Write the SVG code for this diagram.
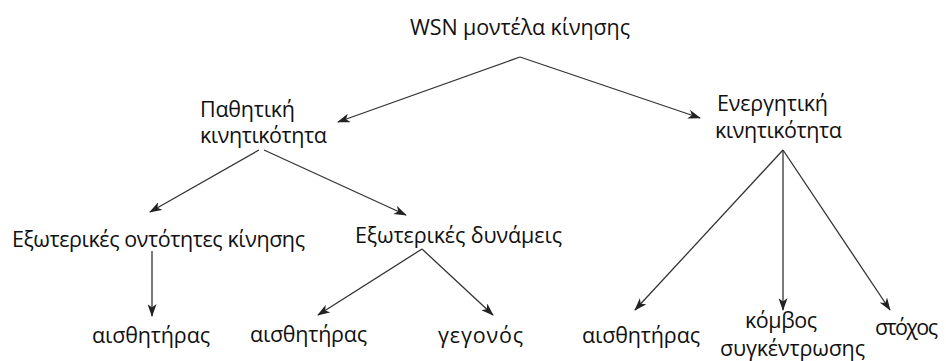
<svg xmlns="http://www.w3.org/2000/svg" width="946" height="361" viewBox="0 0 946 361">
<style>
text{font-family:"Open Sans","Noto Sans","DejaVu Sans",sans-serif;font-size:21.5px;fill:#111}
.c line{stroke:#333;stroke-width:1.3;marker-end:url(#ah)}
</style>
<defs>
<marker id="ah" viewBox="0 0 13 9" refX="12" refY="4.5" markerWidth="13" markerHeight="9" markerUnits="userSpaceOnUse" orient="auto">
<path d="M0,0 L13,4.5 L0,9 L3.5,4.5 z" fill="#222"/>
</marker>
</defs>
<rect width="946" height="361" fill="#fff"/>
<g class="c" id="connectors">
<line x1="520" y1="57" x2="338" y2="122"/>
<line x1="520" y1="57" x2="700" y2="118"/>
<line x1="259" y1="150" x2="150" y2="212"/>
<line x1="264" y1="150" x2="406" y2="215"/>
<line x1="152" y1="251" x2="152" y2="316"/>
<line x1="422" y1="249" x2="318" y2="315"/>
<line x1="422" y1="249" x2="493" y2="315"/>
<line x1="783" y1="150" x2="635" y2="310"/>
<line x1="783" y1="150" x2="783" y2="310"/>
<line x1="783" y1="150" x2="890" y2="310"/>
</g>
<g id="root"><text x="410" y="35" textLength="220">WSN μοντέλα κίνησης</text></g>
<g id="passive"><text x="200" y="117" textLength="95">Παθητική</text><text x="200" y="143" textLength="127">κινητικότητα</text></g>
<g id="active"><text x="717" y="111" textLength="111">Ενεργητική</text><text x="715" y="138" textLength="127">κινητικότητα</text></g>
<g id="entities"><text x="12" y="247" textLength="293">Εξωτερικές οντότητες κίνησης</text></g>
<g id="forces"><text x="355" y="243" textLength="207">Εξωτερικές δυνάμεις</text></g>
<g id="sensor1"><text x="92" y="343" textLength="118">αισθητήρας</text></g>
<g id="sensor2"><text x="250" y="342" textLength="117">αισθητήρας</text></g>
<g id="event"><text x="438" y="343" textLength="85">γεγονός</text></g>
<g id="sensor3"><text x="582" y="343" textLength="118">αισθητήρας</text></g>
<g id="sink"><text x="745" y="328" textLength="72">κόμβος</text><text x="720" y="356" textLength="145">συγκέντρωσης</text></g>
<g id="target"><text x="875" y="335" textLength="63">στόχος</text></g>
</svg>
